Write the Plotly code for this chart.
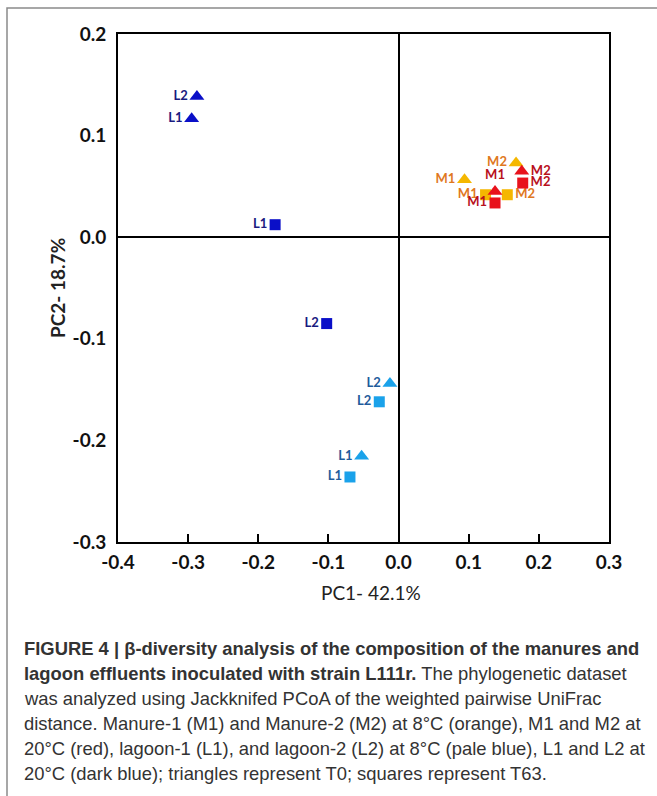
import plotly.graph_objects as go

# ---- data (PC1, PC2) ----
orange_tri_x = [0.094, 0.1675]
orange_tri_y = [0.0566, 0.073]
orange_tri_lab = ["M1", "M2"]

orange_sq_x = [0.124, 0.155]
orange_sq_y = [0.0418, 0.0418]
orange_sq_lab = ["M1", "M2"]

red_tri_x = [0.1375, 0.1756]
red_tri_y = [0.0451, 0.0648]
red_tri_lab = ["M1", "M2"]

red_sq_x = [0.1375, 0.177]
red_sq_y = [0.0337, 0.0533]
red_sq_lab = ["M1", "M2"]

pale_tri_x = [-0.0527, -0.0123]
pale_tri_y = [-0.2157, -0.144]
pale_tri_lab = ["L1", "L2"]

pale_sq_x = [-0.0693, -0.0275]
pale_sq_y = [-0.236, -0.162]
pale_sq_lab = ["L1", "L2"]

dark_tri_x = [-0.295, -0.2875]
dark_tri_y = [0.1166, 0.1384]
dark_tri_lab = ["L1", "L2"]

dark_sq_x = [-0.176, -0.1025]
dark_sq_y = [0.0123, -0.085]
dark_sq_lab = ["L1", "L2"]

x_ticks = [-0.4, -0.3, -0.2, -0.1, 0.0, 0.1, 0.2, 0.3]
y_ticks = [-0.3, -0.2, -0.1, 0.0, 0.1, 0.2]

FONT = "Lato, 'Open Sans', sans-serif"

fig = go.Figure()


def add(x, y, lab, symbol, size, color, tcolor, tpos, fsize=13):
    fig.add_trace(go.Scatter(
        x=x, y=y, text=lab, mode="markers+text", textposition=tpos,
        marker=dict(symbol=symbol, size=size, color=color, line=dict(width=0)),
        textfont=dict(family=FONT, size=fsize, color=tcolor, weight="bold"),
        showlegend=False, cliponaxis=False))


add(dark_tri_x, dark_tri_y, dark_tri_lab, "triangle-up", 13, "#0a0fc8", "#1a1a80", ["middle left", "middle left"])
add(dark_sq_x, dark_sq_y, dark_sq_lab, "square", 11, "#0a0fc8", "#1a1a80", ["middle left", "middle left"])
add(pale_tri_x, pale_tri_y, pale_tri_lab, "triangle-up", 13, "#1aa2ea", "#1f5c9c", ["middle left", "middle left"])
add(pale_sq_x, pale_sq_y, pale_sq_lab, "square", 11, "#1aa2ea", "#1f5c9c", ["middle left", "middle left"])
add(orange_tri_x, orange_tri_y, orange_tri_lab, "triangle-up", 13, "#f5b700", "#e0781e", ["middle left", "middle left"], 13)
add(orange_sq_x, orange_sq_y, orange_sq_lab, "square", 11, "#f5b700", "#e0781e", ["middle left", "middle right"], 13)
add(red_tri_x, red_tri_y, red_tri_lab, "triangle-up", 13, "#e8121c", "#b8101c", ["top center", "middle right"], 13)
add(red_sq_x, red_sq_y, red_sq_lab, "square", 11, "#e8121c", "#b8101c", ["middle left", "middle right"], 13)

ax_common = dict(showline=True, linecolor="black", linewidth=2, mirror=True,
                 showgrid=False, zeroline=True, zerolinecolor="black", zerolinewidth=2,
                 tickfont=dict(family=FONT, size=19, color="#111111", weight="bold"))

fig.update_xaxes(range=[-0.4, 0.3], tickvals=x_ticks,
                 ticktext=[f"{v:.1f}" for v in x_ticks], ticklabelstandoff=2,
                 ticks="inside", ticklen=8, tickwidth=2, tickcolor="black", **ax_common)
fig.update_yaxes(range=[-0.3, 0.2], tickvals=y_ticks,
                 ticktext=[f"{v:.1f}" for v in y_ticks], ticklabelstandoff=6,
                 ticks="", **ax_common)

W, H = 657, 796
L, R, T, B = 118, 609, 34, 542


def px(x):
    return (x - L) / (R - L)


def py(y):
    return (B - y) / (B - T)


fig.add_shape(type="path", xref="paper", yref="paper",
              path=f"M {px(7)} {py(820)} L {px(7)} {py(8)} L {px(700)} {py(8)}",
              line=dict(color="#8a8a8a", width=1.5))

annots = [
    dict(x=px(371), y=py(592), text="PC1- 42.1%", font=dict(family=FONT, size=19, color="#222")),
    dict(x=px(57), y=py(288), text="PC2- 18.7%", textangle=-90,
         font=dict(family=FONT, size=19, color="#222", weight="bold")),
]
cap_lines = [
    "<b>FIGURE 4 | β-diversity analysis of the composition of the manures and</b>",
    "<b>lagoon effluents inoculated with strain L111r.</b> The phylogenetic dataset",
    "was analyzed using Jackknifed PCoA of the weighted pairwise UniFrac",
    "distance. Manure-1 (M1) and Manure-2 (M2) at 8°C (orange), M1 and M2 at",
    "20°C (red), lagoon-1 (L1), and lagoon-2 (L2) at 8°C (pale blue), L1 and L2 at",
    "20°C (dark blue); triangles represent T0; squares represent T63.",
]
cap_y = [648, 673, 698, 723, 748, 773]
for t, yy in zip(cap_lines, cap_y):
    annots.append(dict(x=px(22), y=py(yy), text=t, xanchor="left",
                       font=dict(family="'Liberation Sans Narrow', 'Arial Narrow', sans-serif",
                                 size=18.4, color="#333")))
for a in annots:
    a.setdefault("xanchor", "center")
    a.update(xref="paper", yref="paper", yanchor="middle", showarrow=False)
    fig.add_annotation(**a)

fig.update_layout(width=W, height=H, margin=dict(l=L, r=W - R, t=T, b=H - B),
                  plot_bgcolor="white", paper_bgcolor="white")

fig.write_html("out.html")
